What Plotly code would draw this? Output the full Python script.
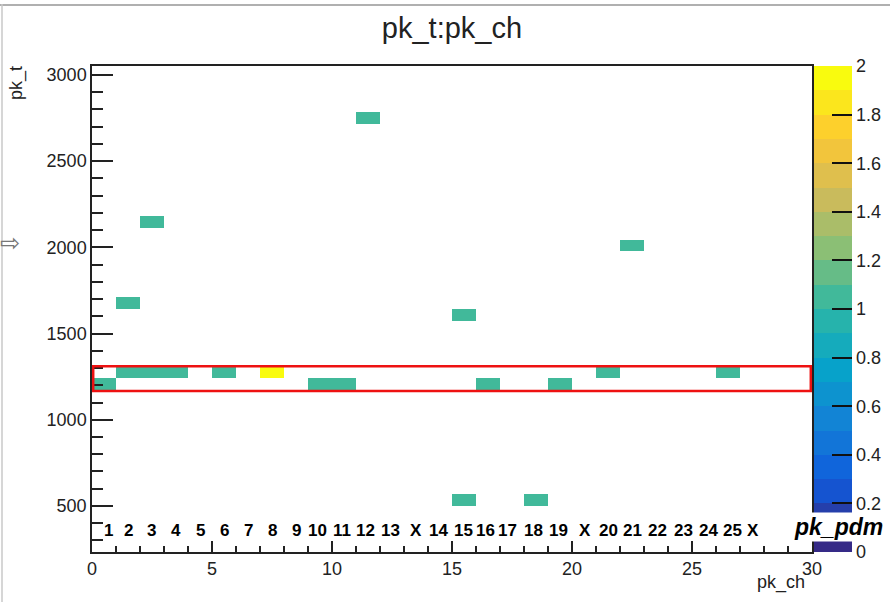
import numpy as np
import plotly.graph_objects as go

# ---- data ----
# one entry per recorded peak: channel and time
pk_ch = [0.5, 1.5, 2.5, 3.5, 5.5, 7.5, 7.5, 9.5, 10.5, 16.5, 19.5, 21.5, 26.5,
         1.5, 2.5, 11.5, 22.5, 15.5, 15.5, 18.5]
pk_t = [1206, 1273, 1273, 1273, 1273, 1273, 1273, 1206, 1206, 1206, 1206, 1273, 1273,
        1676, 2146, 2750, 2012, 1609, 535, 535]

# channel labels written across the bottom of the frame
ch_labels = ["1", "2", "3", "4", "5", "6", "7", "8", "9", "10", "11", "12", "13", "X",
             "14", "15", "16", "17", "18", "19", "X", "20", "21", "22", "23", "24", "25", "X"]

# colour-bar ticks
cb_ticks = [0, 0.2, 0.4, 0.6, 0.8, 1, 1.2, 1.4, 1.6, 1.8, 2]
cb_ticktext = ["0", "0.2", "0.4", "0.6", "0.8", "1", "1.2", "1.4", "1.6", "1.8", "2"]

# ---- histogram binning ----
x_edges = np.arange(0, 31, 1.0)
y_lo, y_hi, ny = 233.0, 3052.0, 42
y_edges = np.linspace(y_lo, y_hi, ny + 1)
H, _, _ = np.histogram2d(pk_ch, pk_t, bins=[x_edges, y_edges])
Z = H.T.astype(object)
Z[Z == 0] = None
xc = 0.5 * (x_edges[:-1] + x_edges[1:])
yc = 0.5 * (y_edges[:-1] + y_edges[1:])

# ---- ROOT kBird palette in 20 bands ----
st = [0.0, 0.125, 0.25, 0.375, 0.5, 0.625, 0.75, 0.875, 1.0]
rr = [0.2082, 0.0592, 0.0780, 0.0232, 0.1802, 0.5301, 0.8186, 0.9956, 0.9764]
gg = [0.1664, 0.3599, 0.5041, 0.6419, 0.7178, 0.7492, 0.7328, 0.7862, 0.9832]
bb = [0.5293, 0.8684, 0.8385, 0.7914, 0.6425, 0.4662, 0.3499, 0.1968, 0.0539]


def bird(t):
    r = np.interp(t, st, rr); g = np.interp(t, st, gg); b = np.interp(t, st, bb)
    return "rgb(%d,%d,%d)" % (round(r * 255), round(g * 255), round(b * 255))


nb = 20
cs = []
for i in range(nb):
    c = bird(i / (nb - 1))
    lo = 0.0 if i == 0 else i / nb - 1e-4
    hi = 1.0 if i == nb - 1 else (i + 1) / nb - 1e-4
    cs.append([lo, c])
    cs.append([hi, c])

W, HGT = 890, 602
PL, PR, PT, PB = 92, 812, 66, 552   # plot frame in pixels


def px(xp):
    return xp / W


def py(yp):
    return 1 - yp / HGT


FONT = "Liberation Sans, Arial, Helvetica, sans-serif"
TXT = "#222222"

fig = go.Figure()
fig.add_trace(go.Heatmap(
    x=xc, y=yc, z=Z, zmin=0, zmax=2, colorscale=cs, hoverongaps=False,
    colorbar=dict(
        x=px(814), xanchor="left", xpad=0, y=py((PT + PB) / 2), yanchor="middle", ypad=0,
        len=(PB - PT) / HGT, lenmode="fraction", thickness=38, outlinewidth=0,
        tickvals=cb_ticks, ticktext=cb_ticktext, ticks="inside", ticklen=20,
        tickcolor="#111", tickwidth=1.5,
        tickfont=dict(family=FONT, size=18, color=TXT),
    ),
))

# highlighted band
fig.add_shape(type="rect", xref="x", yref="y", x0=0.05, x1=29.95, y0=1167, y1=1311,
              line=dict(color="#ee1111", width=2.5), fillcolor="rgba(0,0,0,0)")

# canvas border (top and left)
fig.add_shape(type="line", xref="paper", yref="paper", x0=0, x1=1, y0=py(5), y1=py(5),
              line=dict(color="#b0b0b0", width=2))
fig.add_shape(type="line", xref="paper", yref="paper", x0=px(2), x1=px(2), y0=0, y1=py(4),
              line=dict(color="#c8c8c8", width=1.5))

# channel labels
lab_x = [0.68, 1.51, 2.49, 3.5, 4.53, 5.51, 6.54, 7.53, 8.53, 9.39, 10.4, 11.4, 12.45, 13.5,
         14.43, 15.47, 16.4, 17.33, 18.38, 19.42, 20.54, 21.5, 22.54, 23.58, 24.63, 25.67,
         26.67, 27.54]
for lx, lt in zip(lab_x, ch_labels):
    fig.add_annotation(x=lx, y=py(530), xref="x", yref="paper", text="<b>%s</b>" % lt,
                       showarrow=False, xanchor="center", yanchor="middle",
                       font=dict(family=FONT, size=17, color="#000"))

fig.add_annotation(x=px(838), y=py(527), xref="paper", yref="paper", text="<b><i>pk_pdm</i></b>",
                   showarrow=False, xanchor="center", yanchor="middle", bgcolor="white",
                   borderpad=1, font=dict(family=FONT, size=23, color="#000"))

# axis titles
fig.add_annotation(x=px(16), y=py(64), xref="paper", yref="paper", text="pk_t", textangle=-90,
                   showarrow=False, xanchor="center", yanchor="top",
                   font=dict(family=FONT, size=18, color=TXT))
fig.add_annotation(x=px(807), y=py(582), xref="paper", yref="paper", text="pk_ch",
                   showarrow=False, xanchor="right", yanchor="middle",
                   font=dict(family=FONT, size=18, color=TXT))

# cursor artefact at left edge
fig.add_annotation(x=px(-2), y=py(243), xref="paper", yref="paper", text="⇨",
                   showarrow=False, xanchor="left", yanchor="middle",
                   font=dict(family="DejaVu Sans", size=24, color="#777"))

fig.update_layout(
    width=W, height=HGT,
    margin=dict(l=0, r=0, t=0, b=0, autoexpand=False),
    paper_bgcolor="white", plot_bgcolor="white",
    title=dict(text="pk_t:pk_ch", x=px((PL + PR) / 2), xref="paper", xanchor="center",
               y=py(28), yref="paper", yanchor="middle", automargin=False,
               font=dict(family=FONT, size=29, color=TXT)),
    xaxis=dict(domain=[px(PL), px(PR)], range=[0, 30], tick0=0, dtick=5, automargin=False,
               ticks="inside", ticklen=11, tickwidth=1.5,
               tickcolor="#222", showline=True, linecolor="#222", linewidth=1.5, mirror=True,
               showgrid=False, zeroline=False,
               tickfont=dict(family=FONT, size=18, color=TXT),
               minor=dict(dtick=1, ticks="inside", ticklen=6, tickcolor="#222", showgrid=False)),
    yaxis=dict(domain=[py(PB), py(PT)], range=[y_lo, y_hi], tick0=0, dtick=500, automargin=False,
               ticks="inside", ticklen=21, tickwidth=1.5,
               tickcolor="#222", showline=True, linecolor="#222", linewidth=1.5, mirror=True,
               showgrid=False, zeroline=False,
               tickfont=dict(family=FONT, size=18, color=TXT),
               minor=dict(dtick=100, ticks="inside", ticklen=11, tickcolor="#222", showgrid=False)),
    showlegend=False,
)

fig.write_html("out.html", config={"displayModeBar": False},
               post_script="document.body.style.margin='0';")
